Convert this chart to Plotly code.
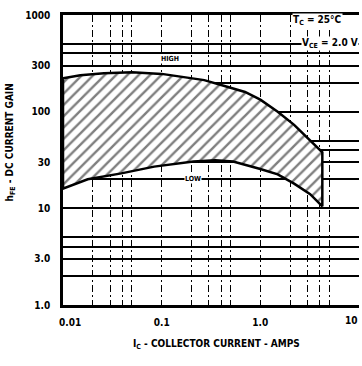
import plotly.graph_objects as go

# Data
ic_high = [0.01, 0.015, 0.026, 0.05, 0.1, 0.15, 0.27, 0.47, 0.7, 1.0, 1.5, 2.2, 3.2, 4.25]
hfe_high = [222, 238, 250, 256, 246, 232, 212, 180, 160, 133, 100, 73, 51, 38]
ic_low = [0.01, 0.0178, 0.039, 0.084, 0.21, 0.35, 0.53, 1.0, 1.5, 2.2, 3.2, 4.25]
hfe_low = [16, 20, 23, 27, 30.5, 31.5, 30.5, 25.5, 22.5, 18, 14, 10.5]

x_major = [0.01, 0.1, 1]
x_labels = ["\u00a0\u00a0\u00a0\u00a0\u00a0<b>0.01</b>", "<b>0.1</b>", "<b>1.0</b>"]
x_minor = [0.02, 0.03, 0.04, 0.05, 0.2, 0.3, 0.4, 0.5, 2, 3, 4, 5, 10]
y_major = [1, 3, 10, 30, 100, 300, 1000]
y_labels = ["<b>1.0</b>", "<b>3.0</b>", "<b>10</b>", "<b>30</b>", "<b>100</b>", "<b>300</b>", "<b>1000</b>"]
y_minor = [2, 4, 5, 20, 40, 50, 200, 400, 500]

font_family = "DejaVu Sans Condensed, DejaVu Sans, sans-serif"

poly_x = ic_high + ic_low[::-1] + [ic_high[0]]
poly_y = hfe_high + hfe_low[::-1] + [hfe_high[0]]

fig = go.Figure()
fig.add_trace(go.Scatter(
    x=poly_x, y=poly_y, mode="lines", fill="toself",
    line=dict(color="black", width=2.5),
    fillcolor="white",
    fillpattern=dict(shape="/", fgcolor="black", bgcolor="white", size=8, solidity=0.3),
    hoverinfo="skip", showlegend=False,
))

xdash = "7px,3px,2px,3px"
fig.update_layout(
    width=362, height=366,
    margin=dict(l=63, r=3, t=15, b=61),
    paper_bgcolor="white", plot_bgcolor="white",
    font=dict(family=font_family, color="black", size=10),
    showlegend=False,
    xaxis=dict(
        type="log", range=[-2, 1], tickmode="array", tickvals=x_major, ticktext=x_labels,
        showgrid=True, gridcolor="black", gridwidth=1, griddash=xdash,
        minor=dict(tickmode="array", tickvals=x_minor, showgrid=True, gridcolor="black",
                   gridwidth=1, griddash=xdash, ticks=""),
        showline=True, linecolor="black", linewidth=2.5, mirror=True,
        ticks="", ticklabelstandoff=6, zeroline=False,
        tickfont=dict(size=10, family=font_family),
    ),
    yaxis=dict(
        type="log", range=[0, 3], tickmode="array", tickvals=y_major, ticktext=y_labels,
        showgrid=True, gridcolor="black", gridwidth=1.6,
        minor=dict(tickmode="array", tickvals=y_minor, showgrid=True, gridcolor="black",
                   gridwidth=1.6, ticks=""),
        showline=True, linecolor="black", linewidth=2.5,
        ticks="", ticklabelstandoff=8, zeroline=False,
        tickfont=dict(size=10, family=font_family),
    ),
)

ann_font = dict(family=font_family, size=10, color="black")
# last x tick label ("10") placed inside the window edge
fig.add_annotation(text="<b>10</b>", x=1, y=0, xref="x", yref="y", xanchor="right", yanchor="top",
                   yshift=-8, xshift=1, showarrow=False, font=ann_font)
fig.add_annotation(text="<b>T<sub>C</sub> = 25°C</b>", xref="paper", yref="paper",
                   x=0.86, y=0.98, yanchor="middle", showarrow=False,
                   font=dict(family=font_family, size=10), bgcolor="white", xanchor="center", borderpad=0)
fig.add_annotation(text="<b>V<sub>CE</sub> = 2.0 V</b>", xref="paper", yref="paper",
                   x=1.0, y=0.9, yanchor="middle", showarrow=False,
                   font=dict(family=font_family, size=10), bgcolor="white", xanchor="right", borderpad=0)
fig.add_annotation(text="<b>HIGH</b>", x=-0.92, y=2.54, xref="x", yref="y",
                   showarrow=False, font=dict(family=font_family, size=7), bgcolor="white", borderpad=0)
fig.add_annotation(text="<b>LOW</b>", x=-0.68, y=1.301, xref="x", yref="y",
                   showarrow=False, font=dict(family=font_family, size=7), bgcolor="white", borderpad=0)
fig.add_annotation(text="<b>I<sub>C</sub> - COLLECTOR CURRENT - AMPS</b>", xref="paper", yref="paper",
                   x=0.52, y=-0.135, yanchor="middle", showarrow=False, font=ann_font)
fig.add_annotation(text="<b>h<sub>FE</sub> - DC CURRENT GAIN</b>", xref="paper", yref="paper",
                   x=-0.205, y=0.56, textangle=-90, showarrow=False, font=ann_font)

fig.write_html("out.html")
